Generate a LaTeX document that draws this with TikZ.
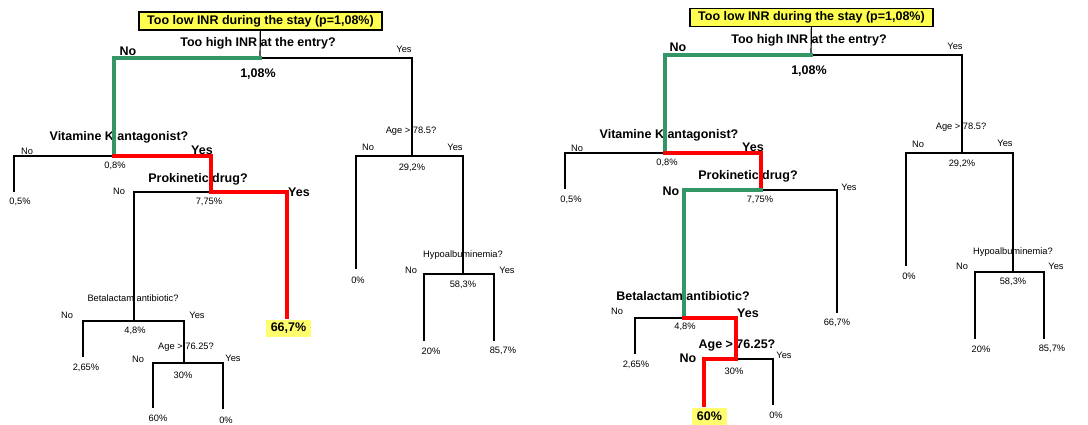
\documentclass[tikz,border=0pt]{standalone}
\usepackage{fontspec}
\setmainfont{Liberation Sans}
\usepackage{xcolor}
\usepackage{tikz}
\usetikzlibrary{calc}

\definecolor{pathgreen}{RGB}{52,150,100}
\definecolor{titleyellow}{RGB}{255,255,80}
\definecolor{leafyellow}{RGB}{255,255,110}

\begin{document}
\begin{tikzpicture}[
x=1pt, y=-1pt,
branch/.style={draw, line width=1.2pt},
greenpath/.style={draw=pathgreen, line width=4pt, line cap=rect},
redpath/.style={draw=red, line width=4pt, line cap=rect},
btext/.style={font=\fontsize{12.5}{14}\selectfont\bfseries, inner sep=0},
stext/.style={font=\fontsize{9.3}{11}\selectfont, inner sep=0},
titlebox/.style={draw, fill=titleyellow, line width=1.2pt, btext,
  minimum width=243pt, minimum height=18pt},
hilite/.style={btext, fill=leafyellow, minimum width=#1, minimum height=17pt}
]
\useasboundingbox (0,0) rectangle (1088,425);

% ---------------- left tree ----------------
\node[titlebox] (L-title) at (260.5,21) {Too low INR during the stay (p=1,08\%)};
\coordinate (L-root) at (260,58);
\coordinate (L-vka) at (114,156);
\coordinate (L-pro) at (211,192);
\coordinate (L-beta) at (134,321);
\coordinate (L-age76) at (184,363);
\coordinate (L-age78) at (412,156);
\coordinate (L-hypo) at (463,274);
\coordinate (L-leaf1) at (14,192);
\coordinate (L-leaf2) at (287,317);
\coordinate (L-leaf3) at (83,357);
\coordinate (L-leaf4) at (153,408);
\coordinate (L-leaf5) at (223,409);
\coordinate (L-leaf6) at (356,269);
\coordinate (L-leaf7) at (424,341);
\coordinate (L-leaf8) at (494,341);

\node[btext] (L-q1) at (258,43) {Too high INR at the entry?};
\node[btext] (L-no1) at (128,51) {No};
\node[stext] (L-yes1) at (404,49) {Yes};
\node[btext] (L-p1) at (258,74) {1,08\%};
\node[btext] (L-q2) at (119,137) {Vitamine K antagonist?};
\node[stext] (L-no2) at (27,151) {No};
\node[btext] (L-yes2) at (202,150) {Yes};
\node[stext] (L-p2) at (115,166) {0,8\%};
\node[stext] (L-p3) at (20,202) {0,5\%};
\node[btext] (L-q3) at (198,179) {Prokinetic drug?};
\node[stext] (L-no3) at (119,191) {No};
\node[btext] (L-yes3) at (299,192) {Yes};
\node[stext] (L-p4) at (209,202) {7,75\%};
\node[hilite=45pt] (L-p5) at (288.5,328.5) {66,7\%};
\node[stext] (L-q4) at (133,298) {Betalactam antibiotic?};
\node[stext] (L-no4) at (67,315) {No};
\node[stext] (L-yes4) at (197,315) {Yes};
\node[stext] (L-p6) at (135,331) {4,8\%};
\node[stext] (L-p7) at (86,368) {2,65\%};
\node[stext] (L-q5) at (186,347) {Age > 76.25?};
\node[stext] (L-no5) at (138,359) {No};
\node[stext] (L-yes5) at (233,358) {Yes};
\node[stext] (L-p8) at (183,375) {30\%};
\node[stext] (L-p9) at (158,418) {60\%};
\node[stext] (L-p10) at (226,420) {0\%};
\node[stext] (L-q6) at (411,131) {Age > 78.5?};
\node[stext] (L-no6) at (368,147) {No};
\node[stext] (L-yes6) at (455,147) {Yes};
\node[stext] (L-p11) at (412,168) {29,2\%};
\node[stext] (L-p12) at (358,280) {0\%};
\node[stext] (L-q7) at (463,255) {Hypoalbuminemia?};
\node[stext] (L-no7) at (411,270) {No};
\node[stext] (L-yes7) at (507,270) {Yes};
\node[stext] (L-p13) at (463,285) {58,3\%};
\node[stext] (L-p14) at (431,351) {20\%};
\node[stext] (L-p15) at (503,351) {85,7\%};

\draw[branch] (L-title) -- (L-root);
\draw[branch] (L-root) -| (L-age78);
\draw[branch] (L-vka) -| (L-leaf1);
\draw[branch] (L-pro) -| (L-beta);
\draw[branch] (L-beta) -| (L-leaf3);
\draw[branch] (L-beta) -| (L-age76);
\draw[branch] (L-age76) -| (L-leaf4);
\draw[branch] (L-age76) -| (L-leaf5);
\draw[branch] (L-age78) -| (L-leaf6);
\draw[branch] (L-age78) -| (L-hypo);
\draw[branch] (L-hypo) -| (L-leaf7);
\draw[branch] (L-hypo) -| (L-leaf8);
\draw[greenpath] (L-root) -| (L-vka);
\draw[redpath] (L-vka) -| (L-pro) -| (L-leaf2);

% ---------------- right tree ----------------
\node[titlebox] (R-title) at (811.5,17.5) {Too low INR during the stay (p=1,08\%)};
\coordinate (R-root) at (811,55);
\coordinate (R-vka) at (665,153);
\coordinate (R-pro) at (761,190);
\coordinate (R-beta) at (684,318);
\coordinate (R-age76) at (736,359);
\coordinate (R-age78) at (962,153);
\coordinate (R-hypo) at (1013,272);
\coordinate (R-leaf1) at (565,189);
\coordinate (R-leaf2) at (837,313);
\coordinate (R-leaf3) at (635,354);
\coordinate (R-leaf4) at (704,405);
\coordinate (R-leaf5) at (773,405);
\coordinate (R-leaf6) at (906,266);
\coordinate (R-leaf7) at (975,339);
\coordinate (R-leaf8) at (1044,339);

\node[btext] (R-q1) at (809,40) {Too high INR at the entry?};
\node[btext] (R-no1) at (678,47) {No};
\node[stext] (R-yes1) at (955,46) {Yes};
\node[btext] (R-p1) at (809,71) {1,08\%};
\node[btext] (R-q2) at (669,135) {Vitamine K antagonist?};
\node[stext] (R-no2) at (577,148) {No};
\node[btext] (R-yes2) at (753,147) {Yes};
\node[stext] (R-p2) at (667,163) {0,8\%};
\node[stext] (R-p3) at (571,200) {0,5\%};
\node[btext] (R-q3) at (748,176) {Prokinetic drug?};
\node[btext] (R-no3) at (671,191) {No};
\node[stext] (R-yes3) at (849,187) {Yes};
\node[stext] (R-p4) at (760,200) {7,75\%};
\node[stext] (R-p5) at (837,323) {66,7\%};
\node[btext] (R-q4) at (683,296) {Betalactam antibiotic?};
\node[stext] (R-no4) at (617,311) {No};
\node[btext] (R-yes4) at (748,313) {Yes};
\node[stext] (R-p6) at (685,327) {4,8\%};
\node[stext] (R-p7) at (636,365) {2,65\%};
\node[btext] (R-q5) at (737,345) {Age > 76.25?};
\node[btext] (R-no5) at (688,358) {No};
\node[stext] (R-yes5) at (784,355) {Yes};
\node[stext] (R-p8) at (734,371) {30\%};
\node[hilite=35pt] (R-p9) at (709.5,416.5) {60\%};
\node[stext] (R-p10) at (776,415) {0\%};
\node[stext] (R-q6) at (961,127) {Age > 78.5?};
\node[stext] (R-no6) at (918,144) {No};
\node[stext] (R-yes6) at (1005,143) {Yes};
\node[stext] (R-p11) at (962,164) {29,2\%};
\node[stext] (R-p12) at (909,276) {0\%};
\node[stext] (R-q7) at (1013,252) {Hypoalbuminemia?};
\node[stext] (R-no7) at (962,266) {No};
\node[stext] (R-yes7) at (1056,266) {Yes};
\node[stext] (R-p13) at (1013,282) {58,3\%};
\node[stext] (R-p14) at (981,349) {20\%};
\node[stext] (R-p15) at (1052,349) {85,7\%};

\draw[branch] (R-title) -- (R-root);
\draw[branch] (R-root) -| (R-age78);
\draw[branch] (R-vka) -| (R-leaf1);
\draw[branch] (R-pro) -| (R-leaf2);
\draw[branch] (R-beta) -| (R-leaf3);
\draw[branch] (R-age76) -| (R-leaf5);
\draw[branch] (R-age78) -| (R-leaf6);
\draw[branch] (R-age78) -| (R-hypo);
\draw[branch] (R-hypo) -| (R-leaf7);
\draw[branch] (R-hypo) -| (R-leaf8);
\draw[greenpath] (R-root) -| (R-vka);
\draw[redpath] (R-vka) -| (R-pro);
\draw[greenpath] (R-pro) -| (R-beta);
\draw[redpath] (R-beta) -| (R-age76) -| (R-leaf4);

\end{tikzpicture}
\end{document}
